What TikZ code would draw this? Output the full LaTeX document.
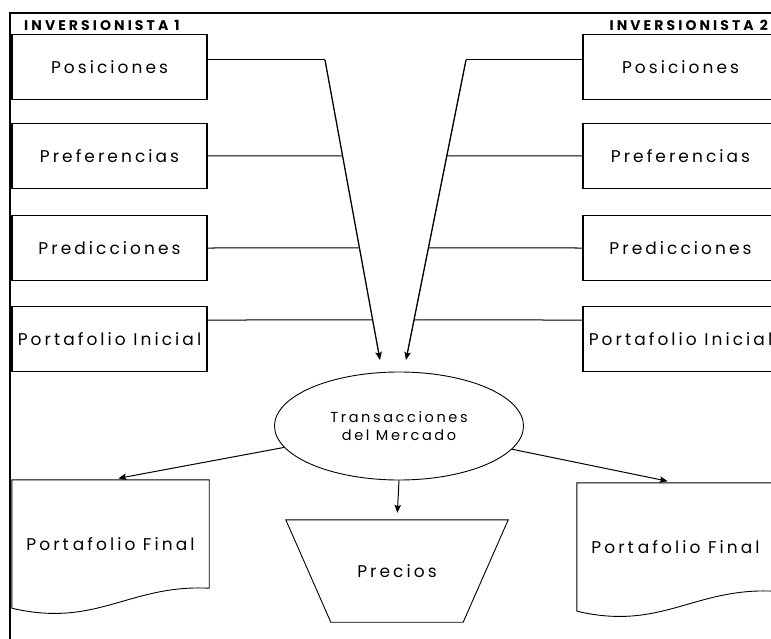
\documentclass[tikz,border=0pt]{standalone}
\usepackage{fontspec}
\setmainfont{Poppins}
\newfontfamily\boxfont{Poppins}[LetterSpace=18]
\newfontfamily\headfont{Poppins}[LetterSpace=22]
\usetikzlibrary{calc,intersections,arrows.meta,shapes.geometric}
\tikzset{
  box/.style={
    draw=black,
    line width=1.6pt,
    minimum width=195pt,
    minimum height=65pt,
    inner sep=0pt,
    font=\boxfont\fontsize{17}{20}\selectfont
  },
  docbox/.style={
    minimum width=197pt,
    minimum height=128pt,
    inner sep=0pt,
    font=\boxfont\fontsize{17}{20}\selectfont
  },
  head/.style={inner sep=0pt, font=\headfont\bfseries\fontsize{14}{16}\selectfont},
  feed/.style={draw=black, line width=1pt},
  lead/.style={line width=1.3pt, -{Stealth[length=8pt,width=6.5pt,inset=1.5pt]}},
  flow/.style={line width=1pt, shorten >=8pt, -{Stealth[length=8pt,width=6.5pt,inset=1.5pt]}},
  outline/.style={draw=black, line width=0.9pt}
}
\newcommand{\docframe}[1]{
  \draw[outline] (#1.south west) -- (#1.north west) -- (#1.north east)
    -- ($(#1.south east)+(0,-20)$)
    .. controls ($(#1.south east)+(-80,-24)$) and ($(#1.south west)+(85,20)$) .. (#1.south west);
}

\begin{document}
\begin{tikzpicture}[x=1pt, y=-1pt]
  \useasboundingbox (0,0) rectangle (771,639);

  % frame
  \draw[line width=1.4pt] (10,639) -- (10,13) -- (771,13);

  % investor headings
  \node[head, anchor=west] (inv1) at (24,25) {INVERSIONISTA 1};
  \node[head, anchor=east] (inv2) at (768,25) {INVERSIONISTA 2};

  % investor 1
  \node[box] (pos1) at (109.5,67) {Posiciones};
  \node[box] (pref1) at (109.5,156) {Preferencias};
  \node[box] (pred1) at (109.5,248) {Predicciones};
  \node[box] (ini1) at (109.5,339) {Portafolio Inicial};

  % investor 2
  \node[box] (pos2) at (680.5,67) {Posiciones};
  \node[box] (pref2) at (680.5,156) {Preferencias};
  \node[box] (pred2) at (680.5,248) {Predicciones};
  \node[box] (ini2) at (680.5,339) {Portafolio Inicial};

  % market
  \node[ellipse, outline, minimum width=249pt, minimum height=108pt, inner sep=0pt,
        align=center, font=\boxfont\fontsize{14.5}{18}\selectfont] (mkt) at (399,426)
        {Transacciones\\del Mercado};

  % results
  \node[docbox] (fin1) at (110.5,544) {Port\hspace{4pt}afolio Final};
  \node[docbox] (fin2) at (675.5,547) {Port\hspace{4pt}afolio Final};
  \docframe{fin1}
  \docframe{fin2}

  \node[minimum width=222pt, minimum height=102pt, inner sep=0pt,
        font=\boxfont\fontsize{17}{20}\selectfont] (prc) at (397,571) {Precios};
  \draw[outline] (prc.north west) -- (prc.north east) -- ($(prc.south east)+(-45,0)$)
    -- ($(prc.south west)+(45,0)$) -- cycle;

  % the two inputs into the market
  \coordinate (k1) at (325,60);
  \coordinate (t1) at (380,360);
  \coordinate (k2) at (466,60);
  \coordinate (t2) at (406,360);
  \draw[feed] ([yshift=7pt]pos1.east) -- (k1);
  \draw[feed] ([yshift=7pt]pos2.west) -- (k2);
  \draw[lead, name path=lead1] (k1) -- (t1);
  \draw[lead, name path=lead2] (k2) -- (t2);

  \foreach \r/\s in {pref/0, pred/0, ini/19} {
    \path[name path=row] ([yshift=\s pt]\r1.east) -- ([yshift=\s pt]\r2.west);
    \draw[feed, name intersections={of=lead1 and row}] ([yshift=\s pt]\r1.east) -- (intersection-1);
    \draw[feed, name intersections={of=lead2 and row}] ([yshift=\s pt]\r2.west) -- (intersection-1);
  }

  % outputs
  \draw[flow] (mkt) -- (fin1.north);
  \draw[flow] (mkt) -- (fin2.north);
  \draw[flow, shorten >=7pt] (mkt.south) -- (prc.north);

\end{tikzpicture}
\end{document}
